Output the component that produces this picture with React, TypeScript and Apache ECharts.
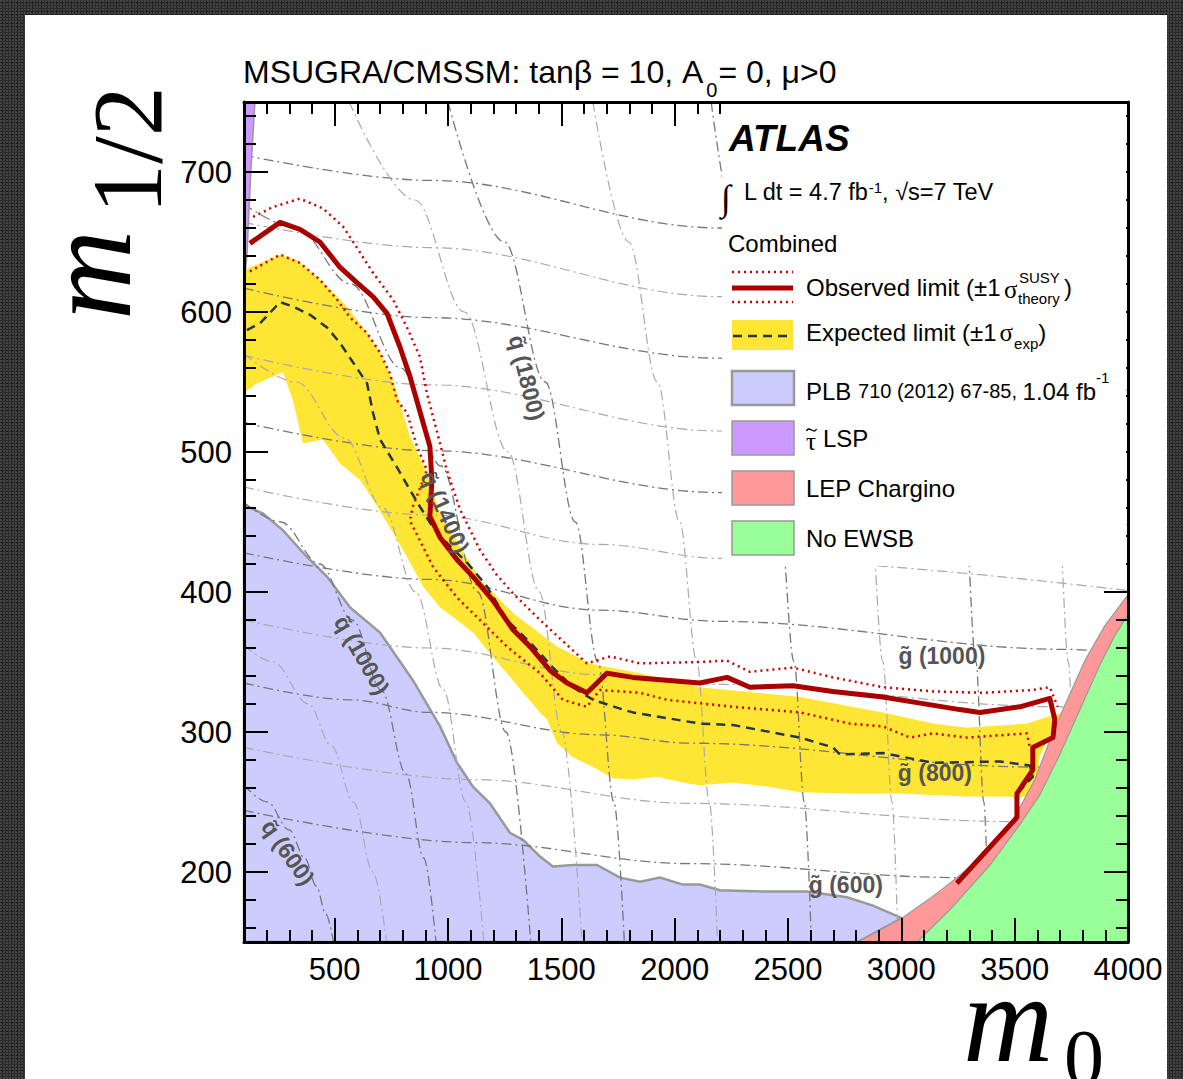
import React, { useEffect, useRef } from "react";
import * as echarts from "echarts";

const FONT = "'Liberation Sans', Arial, Helvetica, sans-serif";
const SERIF = "'Liberation Serif', 'Times New Roman', serif";

// ---- axis ticks ----
const X_MAJOR = [500, 1000, 1500, 2000, 2500, 3000, 3500, 4000];
const X_MINOR = [200, 300, 400, 600, 700, 800, 900, 1100, 1200, 1300, 1400, 1600, 1700, 1800, 1900, 2100, 2200, 2300, 2400, 2600, 2700, 2800, 2900, 3100, 3200, 3300, 3400, 3600, 3700, 3800, 3900];
const Y_MAJOR = [200, 300, 400, 500, 600, 700];
const Y_MINOR = [160, 180, 220, 240, 260, 280, 320, 340, 360, 380, 420, 440, 460, 480, 520, 540, 560, 580, 620, 640, 660, 680, 720, 740];

// ---- regions (m0, m1/2) ----
const YELLOW_BAND = [
  [100, 630], [259, 641], [334, 637], [422, 625], [493, 614], [554, 604], [643, 585], [700, 571], [757, 551], [832, 511], [907, 485], [965, 456], [1141, 409], [1287, 385], [1481, 361], [1626, 349], [1847, 342], [2111, 332], [2553, 325], [2919, 314], [3139, 306], [3289, 303], [3554, 306], [3708, 314],
  [3611, 283], [3589, 255], [3501, 253],
  [3479, 254], [3289, 254], [2994, 256], [2773, 256], [2553, 257], [2407, 261], [2257, 264], [2111, 262], [2037, 264], [1922, 268], [1816, 266], [1728, 267], [1640, 275], [1551, 282], [1481, 292], [1437, 309], [1406, 314], [1331, 328], [1260, 342], [1185, 356], [1110, 371], [1040, 380], [965, 389], [890, 404], [819, 425], [744, 446], [669, 466], [612, 480], [523, 492], [448, 509], [360, 506], [316, 537], [272, 557], [157, 549], [100, 542],
];
const PLB_REGION = [
  [100, 462], [184, 456], [272, 444], [378, 425], [466, 411], [568, 389], [700, 371], [845, 337], [965, 304], [1040, 278], [1110, 261], [1185, 249], [1273, 228], [1331, 223], [1406, 211], [1463, 204], [1551, 205], [1657, 205], [1759, 196], [1847, 193], [1935, 196], [2037, 191], [2111, 191], [2200, 187], [2389, 186], [2583, 186], [2760, 182], [2875, 176], [3002, 167], [2808, 150], [100, 150],
];
const STAU_LSP = [[100, 750], [148, 750], [130, 700], [113, 640], [100, 620]];
const LEP_CHARGINO = [[2808, 150], [3002, 167], [3126, 181], [3245, 196], [3391, 216], [3492, 237], [3589, 266], [3655, 294], [3721, 319], [3810, 351], [3898, 376], [4000, 398], [4000, 150]];
const NO_EWSB = [[3069, 150], [3214, 173], [3391, 205], [3523, 234], [3611, 255], [3699, 284], [3788, 316], [3876, 348], [3942, 369], [4000, 384], [4000, 150]];

// ---- limit lines ----
const OBSERVED = [[126, 649], [259, 664], [347, 659], [435, 650], [523, 632], [598, 621], [669, 611], [731, 599], [788, 575], [832, 554], [890, 521], [920, 504], [929, 480], [920, 454], [965, 439], [1040, 423], [1110, 411], [1198, 394], [1287, 373], [1362, 361], [1450, 344], [1525, 335], [1613, 328], [1701, 342], [1816, 339], [2111, 335], [2231, 339], [2332, 332], [2522, 333], [2698, 329], [2919, 325], [3069, 321], [3258, 316], [3347, 314], [3523, 318], [3655, 324], [3677, 309], [3669, 296], [3580, 289], [3580, 273], [3510, 256], [3510, 239], [3245, 192]];
const OBSERVED_UP = [[140, 668], [228, 675], [347, 681], [448, 674], [537, 661], [598, 646], [669, 628], [757, 609], [819, 589], [876, 568], [907, 542], [965, 506], [995, 487], [1053, 459], [1141, 430], [1216, 412], [1287, 399], [1406, 380], [1613, 349], [1715, 354], [1847, 349], [2111, 350], [2231, 351], [2332, 343], [2522, 346], [2698, 339], [2919, 332], [3139, 329], [3360, 328], [3580, 330], [3655, 332], [3690, 318]];
const OBSERVED_DOWN = [[126, 629], [259, 641], [347, 635], [435, 623], [510, 609], [568, 596], [643, 585], [700, 571], [744, 556], [775, 537], [819, 528], [863, 504], [907, 487], [845, 461], [832, 451], [934, 418], [1040, 396], [1141, 380], [1260, 361], [1406, 342], [1507, 323], [1613, 318], [1670, 330], [1847, 328], [1966, 323], [2257, 318], [2553, 314], [2773, 306], [2919, 304], [3038, 296], [3139, 299], [3289, 296], [3554, 299], [3567, 289]];
const EXPECTED = [[113, 587], [171, 592], [259, 607], [316, 604], [391, 598], [466, 589], [523, 578], [581, 564], [643, 549], [669, 528], [700, 509], [775, 489], [832, 473], [876, 461], [934, 446], [995, 435], [1084, 421], [1172, 404], [1260, 380], [1362, 364], [1463, 346], [1551, 332], [1640, 323], [1772, 316], [1816, 314], [2111, 306], [2257, 305], [2553, 296], [2698, 289], [2729, 284], [2919, 285], [3139, 278], [3435, 279], [3567, 276], [3580, 268], [3510, 256], [3510, 239], [3245, 192]];

// ---- iso-mass contours ----
const SQ600 = [[100, 262], [203, 250], [300, 230], [368, 210], [419, 190], [461, 170], [495, 150]];
const SQ800 = [[100, 362], [228, 350], [385, 320], [486, 290], [583, 250], [669, 200], [729, 150]];
const SQ1000 = [[100, 464], [262, 450], [434, 420], [579, 380], [706, 330], [815, 270], [893, 210], [947, 150]];
const SQ1200 = [[100, 570], [330, 550], [544, 510], [713, 460], [858, 400], [980, 330], [1079, 250], [1158, 150]];
const SQ1400 = [[100, 677], [330, 660], [571, 620], [792, 560], [969, 490], [1131, 400], [1256, 300], [1365, 150]];
const SQ1600 = [[564, 750], [854, 680], [1072, 600], [1265, 500], [1403, 400], [1502, 300], [1591, 150]];
const SQ1800 = [[1000, 750], [1249, 650], [1429, 550], [1562, 450], [1662, 350], [1732, 250], [1778, 150]];
const SQ2200 = [[1639, 750], [1798, 650], [1924, 550], [2022, 450], [2098, 350], [2153, 250], [2189, 150]];
const SQ2600 = [[2161, 750], [2284, 650], [2384, 550], [2465, 450], [2527, 350], [2572, 250], [2603, 150]];
const SQ3000 = [[2609, 750], [2711, 650], [2796, 550], [2865, 450], [2919, 350], [2959, 250], [2985, 150]];
const SQ3400 = [[3060, 750], [3148, 650], [3222, 550], [3282, 450], [3329, 350], [3364, 250], [3387, 150]];
const SQ3800 = [[3499, 750], [3577, 650], [3641, 550], [3695, 450], [3737, 350], [3768, 250], [3788, 150]];

const GL600 = [[100, 244], [1110, 221], [2067, 206], [3245, 196], [3492, 194]];
const GL700 = [[100, 289], [1110, 266], [2067, 249], [3492, 236], [4000, 233]];
const GL800 = [[100, 335], [568, 323], [920, 314], [1670, 298], [2067, 292], [3580, 275], [4000, 272]];
const GL900 = [[100, 380], [920, 360], [1670, 341], [2200, 334], [3700, 318], [4000, 316]];
const GL1000 = [[100, 428], [920, 409], [1670, 387], [2200, 379], [3730, 359], [4000, 356]];
const GL1100 = [[100, 475], [920, 455], [1670, 434], [2200, 424], [4000, 401]];
const GL1200 = [[100, 521], [920, 501], [2200, 471], [4000, 448]];
const GL1300 = [[100, 569], [920, 548], [2200, 515], [4000, 490]];
const GL1400 = [[100, 617], [920, 596], [2200, 567], [4000, 544]];
const GL1500 = [[100, 664], [920, 646], [2200, 611], [4000, 591]];
const GL1600 = [[100, 712], [920, 694], [2200, 660], [4000, 639]];

const DARK_CONTOURS = [SQ600, SQ1000, SQ1400, SQ1800, SQ2600, SQ3400, GL600, GL800, GL1000, GL1200, GL1400, GL1600];
const LIGHT_CONTOURS = [SQ800, SQ1200, SQ1600, SQ2200, SQ3000, SQ3800, GL700, GL900, GL1100, GL1300, GL1500];

const LABEL_TEXT = ["q\u0303 (1800)", "q\u0303 (1400)", "q\u0303 (1000)", "q\u0303 (600)", "g\u0303 (1000)", "g\u0303 (800)", "g\u0303 (600)"];
const LABEL_POS = [[1348, 553], [987, 457], [620, 355], [294, 214], [3179, 354], [3148, 271], [2755, 191]];
const LABEL_ANGLE = [-76, -66, -60, -55, 0, 0, 0];

function polySeries(pts: number[][], fill: string, stroke: string, lw: number, z: number) {
  return {
    type: "custom",
    z,
    silent: true,
    data: [pts[0]],
    renderItem: (_params: any, api: any) => {
      const points = pts.map((p) => api.coord(p));
      return { type: "polygon", shape: { points }, style: { fill, stroke, lineWidth: lw } };
    },
  };
}

function lineSeries(data: number[][], color: string, width: number, type: any, z: number, smooth = false) {
  return {
    type: "line",
    data,
    z,
    silent: true,
    showSymbol: false,
    symbol: "none",
    smooth: smooth ? 0.35 : false,
    smoothMonotone: smooth ? "x" : undefined,
    lineStyle: { color, width, type, cap: "butt", join: "round" },
  };
}

function makeAxis(kind: "x" | "y", pos: string, values: number[], len: number, withLine: boolean, withLabel: boolean) {
  const isX = kind === "x";
  return {
    type: "value",
    position: pos,
    min: isX ? 100 : 150,
    max: isX ? 4000 : 750,
    z: 20,
    axisLine: { show: withLine, onZero: false, lineStyle: { color: "#000", width: 3 } },
    axisTick: { show: true, inside: true, length: len, customValues: values, lineStyle: { color: "#000", width: 2 } },
    axisLabel: withLabel
      ? { show: true, customValues: values, margin: 12, fontSize: 31, color: "#000", fontFamily: FONT, formatter: (v: number) => String(v) }
      : { show: false },
    splitLine: { show: false },
  };
}

function T(text: string, x: number, y: number, size: number, extra: any = {}) {
  return {
    type: "text",
    x,
    y,
    z: 101,
    silent: true,
    style: { text, fill: "#000", fontSize: size, fontFamily: FONT, align: "left", verticalAlign: "middle", ...extra },
  };
}

function RT(text: string, x: number, y: number, rich: any) {
  return {
    type: "text",
    x,
    y,
    z: 101,
    silent: true,
    style: { text, fill: "#000", fontFamily: FONT, align: "left", verticalAlign: "top", rich },
  };
}

function L(x1: number, y1: number, x2: number, y2: number, stroke: string, lw: number, dash?: number[]) {
  return { type: "line", z: 101, silent: true, shape: { x1, y1, x2, y2 }, style: { stroke, lineWidth: lw, lineDash: dash } };
}

function R(x: number, y: number, w: number, h: number, fill: string, stroke: string | null, lw: number, z = 101) {
  return { type: "rect", z, silent: true, shape: { x, y, width: w, height: h }, style: { fill, stroke: stroke || undefined, lineWidth: lw } };
}

const DASHDOT = [10, 4, 2, 4];

export default function App() {
  const ref = useRef<HTMLDivElement>(null);
  useEffect(() => {
    const chart = echarts.init(ref.current!, null, { renderer: "svg" });
    const series: any[] = [];
    series.push(polySeries(YELLOW_BAND, "#FFE534", "none", 0, 3));
    series.push(polySeries(PLB_REGION, "#CCCCFF", "#999999", 2.5, 4));
    DARK_CONTOURS.forEach((c) => series.push(lineSeries(c, "#777777", 1.3, DASHDOT, 5, true)));
    LIGHT_CONTOURS.forEach((c) => series.push(lineSeries(c, "#AAAAAA", 1.2, DASHDOT, 5, true)));
    series.push(polySeries(STAU_LSP, "#CC99FF", "#999999", 1.5, 6));
    series.push(polySeries(LEP_CHARGINO, "#FF9999", "#999999", 1.2, 7));
    series.push(polySeries(NO_EWSB, "#99FF99", "#999999", 1.2, 8));
    series.push(lineSeries(EXPECTED, "#263645", 2.5, [9, 6], 9));
    series.push(lineSeries(OBSERVED_UP, "#CC0000", 2.5, [2, 4], 10));
    series.push(lineSeries(OBSERVED_DOWN, "#CC0000", 2.5, [2, 4], 10));
    series.push(lineSeries(OBSERVED, "#AA0000", 5, "solid", 11));
    series.push({
      type: "custom",
      z: 12,
      silent: true,
      data: LABEL_POS,
      renderItem: (params: any, api: any) => {
        const i = params.dataIndex;
        const p = api.coord([api.value(0), api.value(1)]);
        return {
          type: "text",
          x: p[0],
          y: p[1],
          rotation: (LABEL_ANGLE[i] * Math.PI) / 180,
          style: { text: LABEL_TEXT[i], fill: "#555555", fontSize: 23, fontWeight: "bold", fontFamily: FONT, align: "center", verticalAlign: "middle" },
        };
      },
    });

    const graphics: any[] = [
      // title
      RT("{a|MSUGRA/CMSSM: tan\u03b2 = 10, A}{sub|0}{a|= 0, \u03bc>0}", 243, 56, {
        a: { fontSize: 32, lineHeight: 32, verticalAlign: "top", fontFamily: FONT, color: "#000" },
        sub: { fontSize: 20, lineHeight: 68, verticalAlign: "middle", fontFamily: FONT, color: "#000", padding: [0, 1, 0, 3] },
      }),
      // axis titles
      { type: "text", x: 88, y: 320, z: 101, rotation: Math.PI / 2, silent: true, style: { text: "m", fontSize: 125, lineHeight: 70, fontStyle: "italic", fontFamily: SERIF, fill: "#000", align: "left", verticalAlign: "middle" } },
      { type: "text", x: 127, y: 214, z: 101, rotation: Math.PI / 2, silent: true, style: { text: "1/2", fontSize: 100, lineHeight: 70, fontFamily: SERIF, fill: "#000", align: "left", verticalAlign: "middle" } },
      { type: "text", x: 963, y: 1019, z: 101, silent: true, style: { text: "m", fontSize: 125, lineHeight: 60, fontStyle: "italic", fontFamily: SERIF, fill: "#000", align: "left", verticalAlign: "middle" } },
      { type: "text", x: 1064, y: 1058, z: 101, silent: true, style: { text: "0", fontSize: 80, lineHeight: 40, fontFamily: SERIF, fill: "#000", align: "left", verticalAlign: "middle" } },
      // legend box
      R(722, 104, 404, 462, "#FFFFFF", null, 0, 100),
      T("ATLAS", 729, 138, 37, { fontWeight: "bold", fontStyle: "italic" }),
      T("\u222b", 721, 198, 36, { fontFamily: SERIF }),
      RT("{a|L dt = 4.7 fb}{sup|-1}{a|, \u221as=7 TeV}", 744, 180, {
        a: { fontSize: 23.5, lineHeight: 27, verticalAlign: "top", fontFamily: FONT, color: "#000" },
        sup: { fontSize: 15, lineHeight: 12, verticalAlign: "top", fontFamily: FONT, color: "#000" },
      }),
      T("Combined", 728, 243, 24),
      // observed
      L(732, 272, 793, 272, "#CC0000", 2.5, [2, 4]),
      L(732, 288, 793, 288, "#AA0000", 5),
      L(732, 302, 793, 302, "#CC0000", 2.5, [2, 4]),
      T("Observed limit (\u00b11", 806, 287, 24),
      T("\u03c3", 1004, 289, 25, { fontFamily: SERIF }),
      T("SUSY", 1019, 277, 15),
      T("theory", 1018, 298, 15),
      T(")", 1064, 287, 24),
      // expected
      R(732, 320, 61, 30, "#FFE534", null, 0),
      L(733, 336, 793, 336, "#263645", 2.5, [9, 6]),
      RT("{a|Expected limit (\u00b11}{s|\u03c3}{sub|exp}{a|)}", 806, 320, {
        a: { fontSize: 24, lineHeight: 28, verticalAlign: "top", fontFamily: FONT, color: "#000" },
        s: { fontSize: 25, lineHeight: 28, verticalAlign: "top", fontFamily: SERIF, color: "#000", padding: [0, 1, 0, 3] },
        sub: { fontSize: 15, lineHeight: 46, verticalAlign: "middle", fontFamily: FONT, color: "#000" },
      }),
      // PLB
      R(732, 371, 62, 34, "#CCCCFF", "#999999", 2.5),
      RT("{a|PLB }{b|710 (2012) 67-85, }{a|1.04 fb}{sup|-1}", 806, 370, {
        a: { fontSize: 24, lineHeight: 40, verticalAlign: "middle", fontFamily: FONT, color: "#000" },
        b: { fontSize: 20, lineHeight: 42, verticalAlign: "middle", fontFamily: FONT, color: "#000" },
        sup: { fontSize: 15, lineHeight: 12, verticalAlign: "top", fontFamily: FONT, color: "#000" },
      }),
      // stau
      R(732, 421, 62, 34, "#CC99FF", "#999999", 1.5),
      T("\u03c4", 806, 441, 25, { fontFamily: SERIF }),
      {
        type: "bezierCurve",
        z: 101,
        silent: true,
        shape: { x1: 806.5, y1: 431, x2: 816.5, y2: 429, cpx1: 809, cpy1: 425, cpx2: 814, cpy2: 435 },
        style: { stroke: "#000", lineWidth: 1.4, fill: "none" },
      },
      T("LSP", 823, 438, 24),
      // LEP
      R(732, 471, 62, 34, "#FF9999", "#999999", 1.5),
      T("LEP Chargino", 806, 488, 24),
      // EWSB
      R(732, 521, 62, 34, "#99FF99", "#999999", 1.5),
      T("No EWSB", 806, 538, 24),
    ];

    chart.setOption({
      animation: false,
      backgroundColor: "transparent",
      grid: { left: 244, right: 55, top: 102, bottom: 137, show: false },
      xAxis: [
        makeAxis("x", "bottom", X_MAJOR, 24, true, true),
        makeAxis("x", "bottom", X_MINOR, 12, false, false),
        makeAxis("x", "top", X_MAJOR, 24, true, false),
        makeAxis("x", "top", X_MINOR, 12, false, false),
      ],
      yAxis: [
        makeAxis("y", "left", Y_MAJOR, 24, true, true),
        makeAxis("y", "left", Y_MINOR, 12, false, false),
        makeAxis("y", "right", Y_MAJOR, 24, true, false),
        makeAxis("y", "right", Y_MINOR, 12, false, false),
      ],
      series,
      graphic: { elements: graphics },
    });
    return () => chart.dispose();
  }, []);

  return (
    <div
      style={{
        position: "fixed",
        left: 0,
        top: 0,
        width: 1183,
        height: 1079,
        backgroundColor: "#2b2b2b",
        backgroundImage:
          "radial-gradient(circle at 1px 1px, rgba(70,70,70,0.9) 1px, transparent 1.5px), radial-gradient(circle at 2px 3px, rgba(20,20,20,0.8) 1px, transparent 1.5px)",
        backgroundSize: "3px 3px, 5px 4px",
        overflow: "hidden",
      }}
    >
      <div style={{ position: "absolute", left: 25, top: 15, width: 1142, height: 1064, background: "#ffffff" }} />
      <div ref={ref} style={{ position: "absolute", left: 0, top: 0, width: 1183, height: 1079 }} />
    </div>
  );
}
